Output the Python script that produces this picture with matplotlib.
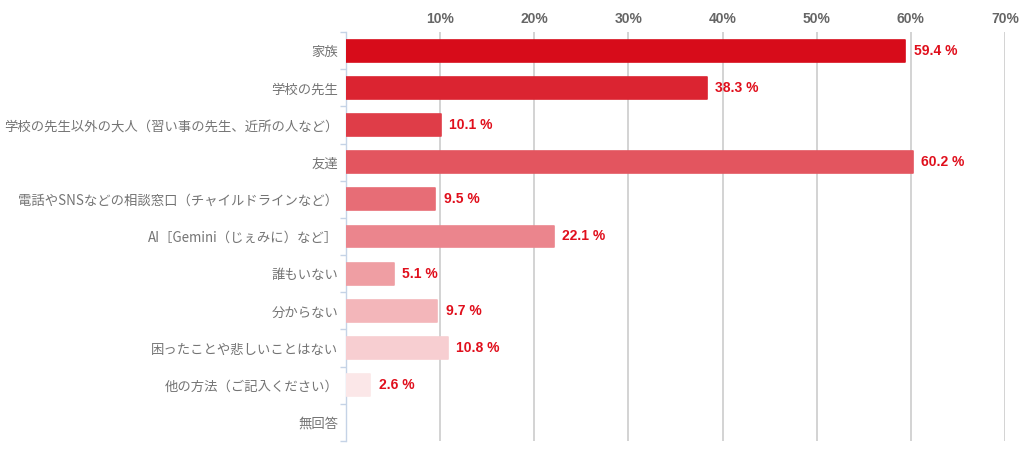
import matplotlib
matplotlib.use('Agg')
import matplotlib.pyplot as plt
from matplotlib.ticker import FixedLocator

# data
categories = [
    '家族',
    '学校の先生',
    '学校の先生以外の大人（習い事の先生、近所の人など）',
    '友達',
    '電話やSNSなどの相談窓口（チャイルドラインなど）',
    'AI［Gemini（じぇみに）など］',
    '誰もいない',
    '分からない',
    '困ったことや悲しいことはない',
    '他の方法（ご記入ください）',
    '無回答',
]
values = [59.4, 38.3, 10.1, 60.2, 9.5, 22.1, 5.1, 9.7, 10.8, 2.6, 0.0]
xticks = [10, 20, 30, 40, 50, 60, 70]

plt.rcParams['font.family'] = ['Noto Sans CJK JP', 'DejaVu Sans']

fig = plt.figure(figsize=(10.24, 4.55), dpi=100)
ax = fig.add_axes([346/1024, 14/455, 659/1024, 409/455])

n = len(categories)
ypos = list(range(n))
base = (0.843, 0.047, 0.102)
for i, (y, v) in enumerate(zip(ypos, values)):
    if v <= 0:
        continue
    a = 1 - 0.1 * i
    col = tuple(1 - a * (1 - c) for c in base)
    ax.barh(y, v, height=0.59, color=col, edgecolor=col, linewidth=1.2,
            joinstyle='round', zorder=3)
    ax.annotate(f'{v:.1f} %', (v, y), xytext=(6, 0), textcoords='offset points',
                va='center', ha='left', color='#e00f1c', fontsize=10,
                fontweight='bold', family='Liberation Sans', zorder=4)

ax.set_ylim(n - 0.5, -0.5)
ax.set_xlim(0, 70)

# y axis: labels centered, ticks at boundaries
ax.set_yticks(ypos)
ax.set_yticklabels(categories, fontsize=9.6, color='#747474')
ax.tick_params(axis='y', which='major', length=0, pad=5.5)
ax.yaxis.set_minor_locator(FixedLocator([i - 0.5 for i in range(n + 1)]))
ax.tick_params(axis='y', which='minor', length=4, color='#c5d3e6', width=1)

# x axis on top
ax.xaxis.tick_top()
ax.set_xticks(xticks)
ax.set_xticklabels([f'{t}%' for t in xticks], fontsize=10, fontweight='bold',
                   color='#666666', family='Liberation Sans')
ax.tick_params(axis='x', length=0, pad=4)
ax.grid(axis='x', color='#cccccc', linewidth=1.2, zorder=0)
ax.set_axisbelow(True)

for s in ['top', 'right', 'bottom']:
    ax.spines[s].set_visible(False)
ax.spines['left'].set_color('#c5d3e6')
ax.spines['left'].set_linewidth(1)

fig.savefig('out.png', dpi=100)
